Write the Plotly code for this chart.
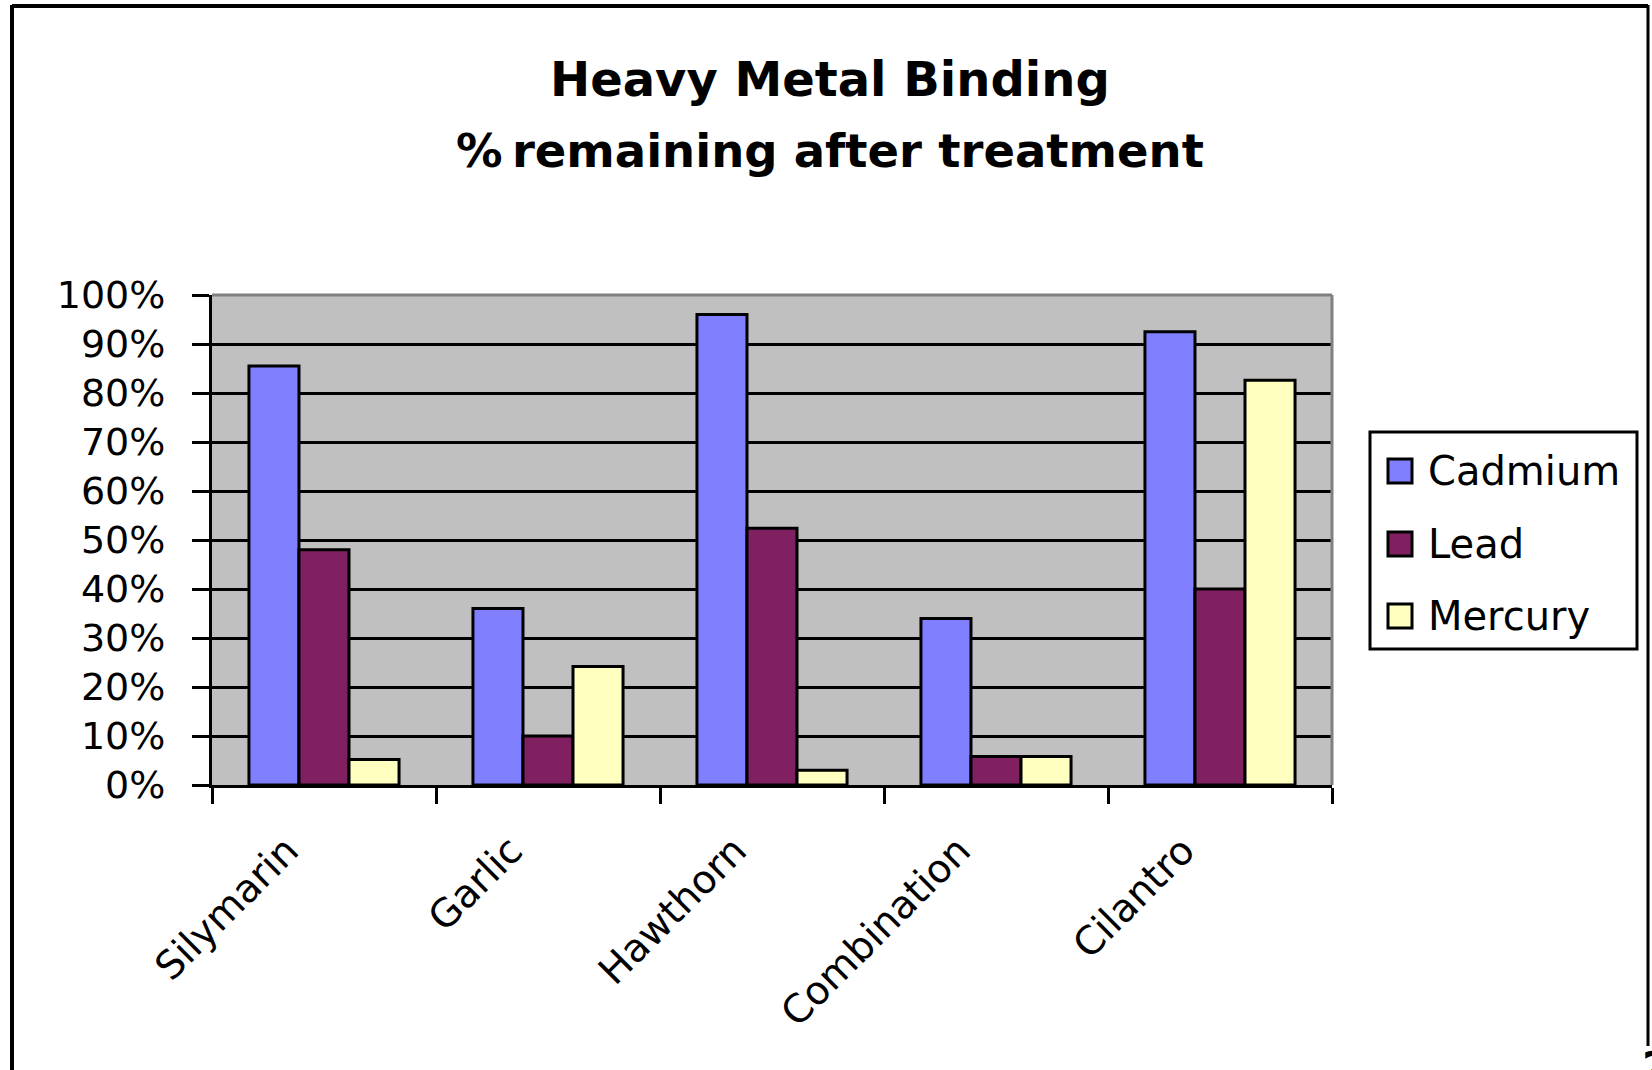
import plotly.graph_objects as go

# Chart data
categories = ["Silymarin", "Garlic", "Hawthorn", "Combination", "Cilantro"]
series_names = ["Cadmium", "Lead", "Mercury"]
cadmium = [0.855, 0.36, 0.96, 0.34, 0.925]
lead = [0.48, 0.10, 0.524, 0.058, 0.40]
mercury = [0.052, 0.242, 0.03, 0.058, 0.826]
series_values = [cadmium, lead, mercury]
series_colors = ["#8080FF", "#802060", "#FFFFC0"]

title_lines = ["Heavy Metal Binding", "%\u2009remaining after treatment"]
title_sizes = [48, 46.5]

W, H = 1652, 1070
# plot area in pixels
PL, PR, PT, PB = 212, 1332, 295, 785

FONT = "DejaVu Sans, Liberation Sans, Arial, sans-serif"


def px_x(px):
    return (px - PL) / (PR - PL)


def px_y(py):
    return (PB - py) / (PB - PT)


fig = go.Figure()
for name, vals, color in zip(series_names, series_values, series_colors):
    fig.add_trace(go.Bar(
        x=categories, y=vals, name=name,
        marker=dict(color=color, line=dict(color="black", width=3)),
        showlegend=False,
    ))

shapes = []
annotations = []

# plot-area border (top and right) in gray
shapes.append(dict(type="line", xref="paper", yref="paper", x0=0, x1=1, y0=1, y1=1,
                   line=dict(color="#808080", width=3), layer="above"))
shapes.append(dict(type="line", xref="paper", yref="paper", x0=1, x1=1, y0=0, y1=1,
                   line=dict(color="#808080", width=3), layer="above"))

# outer frame
frame = dict(color="black", width=4)
shapes.append(dict(type="line", xref="paper", yref="paper",
                   x0=px_x(12), x1=px_x(12), y0=px_y(5), y1=px_y(1075), line=frame))
shapes.append(dict(type="line", xref="paper", yref="paper",
                   x0=px_x(12), x1=px_x(1648), y0=px_y(6), y1=px_y(6), line=frame))
shapes.append(dict(type="line", xref="paper", yref="paper",
                   x0=px_x(1648), x1=px_x(1648), y0=px_y(5), y1=px_y(1046),
                   line=dict(color="black", width=3)))

# title
for text, size, cy in zip(title_lines, title_sizes, [79, 151]):
    annotations.append(dict(
        text=f"<b>{text}</b>", xref="paper", yref="paper",
        x=px_x(830), y=px_y(cy), xanchor="center", yanchor="middle",
        showarrow=False, font=dict(family=FONT, size=size, color="black"),
    ))

# legend box
shapes.append(dict(type="rect", xref="paper", yref="paper",
                   x0=px_x(1370), x1=px_x(1637), y0=px_y(432), y1=px_y(649),
                   line=dict(color="black", width=3), fillcolor="white"))
for name, color, cy in zip(series_names, series_colors, [471, 544, 616]):
    shapes.append(dict(type="rect", xref="paper", yref="paper",
                       x0=px_x(1388), x1=px_x(1412), y0=px_y(cy - 12), y1=px_y(cy + 12),
                       line=dict(color="black", width=3), fillcolor=color))
    annotations.append(dict(
        text=name, xref="paper", yref="paper",
        x=px_x(1426), y=px_y(cy), xanchor="left", yanchor="middle",
        showarrow=False, font=dict(family=FONT, size=40, color="black"),
    ))

# page number at the lower-right edge
annotations.append(dict(
    text="<b>2</b>", xref="paper", yref="paper",
    x=px_x(1640), y=px_y(1042), xanchor="left", yanchor="top",
    showarrow=False, font=dict(family=FONT, size=40, color="black"),
))

fig.update_layout(
    width=W, height=H,
    margin=dict(l=PL, r=W - PR, t=PT, b=H - PB, pad=0),
    paper_bgcolor="white", plot_bgcolor="#C0C0C0",
    barmode="group", bargap=0.33, bargroupgap=0,
    showlegend=False,
    font=dict(family=FONT, color="black"),
    shapes=shapes, annotations=annotations,
)
fig.update_xaxes(
    type="category", tickson="boundaries",
    ticks="outside", ticklen=16, tickwidth=3, tickcolor="black",
    showline=True, linecolor="black", linewidth=3,
    showgrid=False, tickangle=-45,
    tickfont=dict(family=FONT, size=39, color="black"),
    ticklabelshift=-37, ticklabelstandoff=24,
)
fig.update_yaxes(
    range=[0, 1], dtick=0.1, tickformat=".0%",
    showgrid=True, gridcolor="black", gridwidth=3,
    ticks="outside", ticklen=17, tickwidth=3, tickcolor="black",
    showline=True, linecolor="black", linewidth=3, zeroline=False,
    tickfont=dict(family=FONT, size=38, color="black"),
    ticklabelstandoff=19,
)

fig.write_html("out.html")
